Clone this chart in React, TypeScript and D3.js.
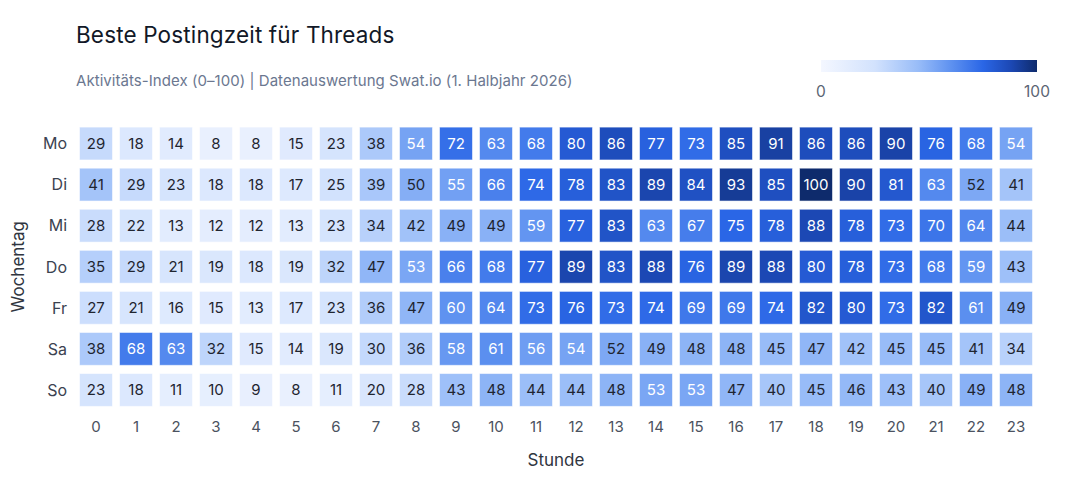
import React from "react";
import * as d3 from "d3";

const days = ["Mo", "Di", "Mi", "Do", "Fr", "Sa", "So"];
const hours = d3.range(24).map(String);

const valMo = [29, 18, 14, 8, 8, 15, 23, 38, 54, 72, 63, 68, 80, 86, 77, 73, 85, 91, 86, 86, 90, 76, 68, 54];
const valDi = [41, 29, 23, 18, 18, 17, 25, 39, 50, 55, 66, 74, 78, 83, 89, 84, 93, 85, 100, 90, 81, 63, 52, 41];
const valMi = [28, 22, 13, 12, 12, 13, 23, 34, 42, 49, 49, 59, 77, 83, 63, 67, 75, 78, 88, 78, 73, 70, 64, 44];
const valDo = [35, 29, 21, 19, 18, 19, 32, 47, 53, 66, 68, 77, 89, 83, 88, 76, 89, 88, 80, 78, 73, 68, 59, 43];
const valFr = [27, 21, 16, 15, 13, 17, 23, 36, 47, 60, 64, 73, 76, 73, 74, 69, 69, 74, 82, 80, 73, 82, 61, 49];
const valSa = [38, 68, 63, 32, 15, 14, 19, 30, 36, 58, 61, 56, 54, 52, 49, 48, 48, 45, 47, 42, 45, 45, 41, 34];
const valSo = [23, 18, 11, 10, 9, 8, 11, 20, 28, 43, 48, 44, 44, 48, 53, 53, 47, 40, 45, 46, 43, 40, 49, 48];
const values = [valMo, valDi, valMi, valDo, valFr, valSa, valSo];

const colorStops = [0, 25, 45, 60, 75, 88, 100];
const colorRange = ["#f4f7ff", "#d2e2fd", "#98bcf8", "#5f92f0", "#2a66e6", "#1c48b4", "#0e2b6c"];
const legendTicks = [0, 100];

const FONT = "Inter, 'Noto Sans', sans-serif";

export default function App() {
  const W = 1080, H = 480;
  const x = d3.scaleBand<string>().domain(hours).range([76, 1036]).paddingInner(0.175).paddingOuter(0.0875);
  const y = d3.scaleBand<string>().domain(days).range([123, 410.5]).paddingInner(0.2).paddingOuter(0.1);
  const color = d3.scaleLinear<string>().domain(colorStops).range(colorRange).interpolate(d3.interpolateRgb);
  const lx = d3.scaleLinear().domain([0, 100]).range([821, 1037]);

  const cells: { d: string; h: string; v: number }[] = [];
  values.forEach((row, i) => row.forEach((v, j) => cells.push({ d: days[i], h: hours[j], v })));

  return (
    <svg width={W} height={H} style={{ position: "absolute", left: 0, top: 0, fontFamily: FONT }}>
      <defs>
        <linearGradient id="lg" x1="0" x2="1" y1="0" y2="0">
          {colorStops.map((s) => (
            <stop key={s} offset={`${s}%`} stopColor={color(s)} />
          ))}
        </linearGradient>
      </defs>
      <rect width={W} height={H} fill="#fff" />
      <text x={76} y={43} fontSize={22.5} fill="#111827" letterSpacing={0.15}>Beste Postingzeit für Threads</text>
      <text x={76} y={86} fontSize={15} fill="#6b7790" letterSpacing={0.05}>Aktivitäts-Index (0–100) | Datenauswertung Swat.io (1. Halbjahr 2026)</text>

      <rect x={lx(0)} y={60} width={lx(100) - lx(0)} height={12} fill="url(#lg)" />
      {legendTicks.map((t) => (
        <text key={t} x={lx(t)} y={97} fontSize={15.5} fill="#5b6473" textAnchor="middle">{t}</text>
      ))}

      {cells.map((c) => (
        <g key={c.d + c.h}>
          <rect
            x={x(c.h)!}
            y={y(c.d)!}
            width={x.bandwidth()}
            height={y.bandwidth()}
            fill={color(c.v)}
            stroke="rgba(255,255,255,0.55)"
            strokeWidth={1}
          />
          <text
            x={x(c.h)! + x.bandwidth() / 2}
            y={y(c.d)! + y.bandwidth() / 2}
            dy="0.36em"
            textAnchor="middle"
            fontSize={15}
            fill={c.v >= 53 ? "#ffffff" : "#1f2530"}
          >
            {c.v}
          </text>
        </g>
      ))}

      {days.map((d) => (
        <text key={d} x={67} y={y(d)! + y.bandwidth() / 2} dy="0.36em" textAnchor="end" fontSize={16} fill="#3b4250">{d}</text>
      ))}
      {hours.map((h) => (
        <text key={h} x={x(h)! + x.bandwidth() / 2} y={427} dy="0.36em" textAnchor="middle" fontSize={15} fill="#4b5260">{h}</text>
      ))}
      <text x={556} y={460} dy="0.36em" textAnchor="middle" fontSize={17} fill="#2f3540">Stunde</text>
      <text transform={`translate(18,${(123 + 410.5) / 2}) rotate(-90)`} dy="0.36em" textAnchor="middle" fontSize={17} fill="#2f3540">Wochentag</text>
    </svg>
  );
}
